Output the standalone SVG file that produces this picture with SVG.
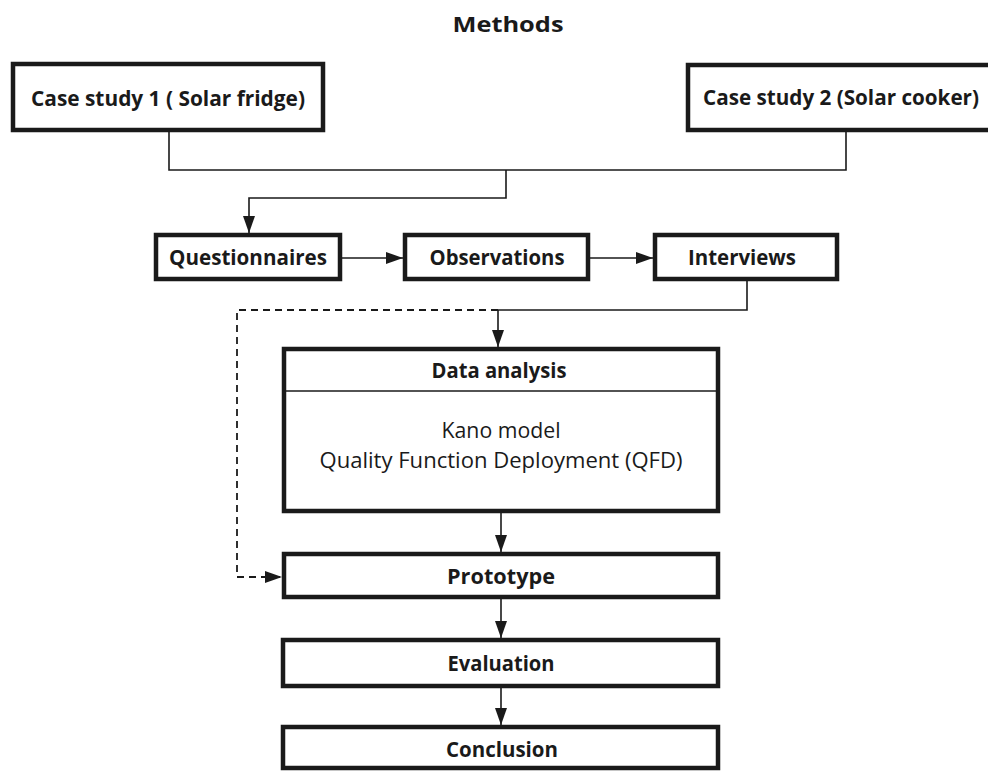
<svg xmlns="http://www.w3.org/2000/svg" width="988" height="772" viewBox="0 0 988 772">
  <style>
    .box { fill: #ffffff; stroke: #1a1a1a; stroke-width: 4.5; }
    .line { fill: none; stroke: #1a1a1a; stroke-width: 1.6; }
    .dash { fill: none; stroke: #1a1a1a; stroke-width: 1.8; stroke-dasharray: 7 5; }
    .lbl { font-family: "Open Sans", "Noto Sans", "Liberation Sans", sans-serif; font-weight: bold; font-size: 22px; fill: #1a1a1a; text-anchor: middle; }
    .body { font-family: "Open Sans", "Noto Sans", "Liberation Sans", sans-serif; font-size: 22px; fill: #1a1a1a; text-anchor: middle; }
  </style>
  <defs>
    <marker id="arrow" markerUnits="userSpaceOnUse" markerWidth="18" markerHeight="13" refX="17" refY="6" orient="auto">
      <path d="M0,0 L17,6 L0,12 z" fill="#1a1a1a"/>
    </marker>
  </defs>
  <rect width="988" height="772" fill="#ffffff"/>

  <text class="lbl" x="508" y="32" font-size="27" textLength="111" lengthAdjust="spacingAndGlyphs">Methods</text>

  <g id="connectors">
    <path class="line" d="M169,132 V170 H846 V132"/>
    <path class="line" d="M506,170 V198 H249 V233" marker-end="url(#arrow)"/>
    <path class="line" d="M342,258 H403" marker-end="url(#arrow)"/>
    <path class="line" d="M590,258 H653" marker-end="url(#arrow)"/>
    <path class="line" d="M747,281 V310 H498 V347" marker-end="url(#arrow)"/>
    <path class="dash" d="M498,310 H237 V577 H282" marker-end="url(#arrow)"/>
    <path class="line" d="M501,513 V552" marker-end="url(#arrow)"/>
    <path class="line" d="M501,599 V638" marker-end="url(#arrow)"/>
    <path class="line" d="M501,688 V725" marker-end="url(#arrow)"/>
  </g>

  <g id="case-study-1">
    <rect class="box" x="13" y="64" width="310" height="66"/>
    <text class="lbl" x="168" y="106" textLength="274" lengthAdjust="spacingAndGlyphs">Case study 1 ( Solar fridge)</text>
  </g>
  <g id="case-study-2">
    <rect class="box" x="688" y="65" width="303" height="65"/>
    <text class="lbl" x="841" y="105" font-size="20.5" textLength="276" lengthAdjust="spacingAndGlyphs">Case study 2 (Solar cooker)</text>
  </g>
  <g id="questionnaires">
    <rect class="box" x="156" y="235" width="184" height="44"/>
    <text class="lbl" x="248" y="265" textLength="158" lengthAdjust="spacingAndGlyphs">Questionnaires</text>
  </g>
  <g id="observations">
    <rect class="box" x="405" y="235" width="183" height="44"/>
    <text class="lbl" x="497" y="265" textLength="135" lengthAdjust="spacingAndGlyphs">Observations</text>
  </g>
  <g id="interviews">
    <rect class="box" x="655" y="235" width="182" height="44"/>
    <text class="lbl" x="742" y="265" textLength="108" lengthAdjust="spacingAndGlyphs">Interviews</text>
  </g>
  <g id="data-analysis">
    <rect class="box" x="284" y="349" width="434" height="162"/>
    <line class="line" x1="284" y1="391" x2="718" y2="391"/>
    <text class="lbl" x="499" y="378" textLength="135" lengthAdjust="spacingAndGlyphs">Data analysis</text>
    <text class="body" x="501" y="438" textLength="119" lengthAdjust="spacingAndGlyphs">Kano model</text>
    <text class="body" x="501" y="468" textLength="363" lengthAdjust="spacingAndGlyphs">Quality Function Deployment (QFD)</text>
  </g>
  <g id="prototype">
    <rect class="box" x="284" y="554" width="434" height="43"/>
    <text class="lbl" x="501" y="584" textLength="108" lengthAdjust="spacingAndGlyphs">Prototype</text>
  </g>
  <g id="evaluation">
    <rect class="box" x="283" y="640" width="435" height="46"/>
    <text class="lbl" x="501" y="671" textLength="107" lengthAdjust="spacingAndGlyphs">Evaluation</text>
  </g>
  <g id="conclusion">
    <rect class="box" x="283" y="727" width="435" height="41"/>
    <text class="lbl" x="502" y="757" textLength="112" lengthAdjust="spacingAndGlyphs">Conclusion</text>
  </g>
</svg>
